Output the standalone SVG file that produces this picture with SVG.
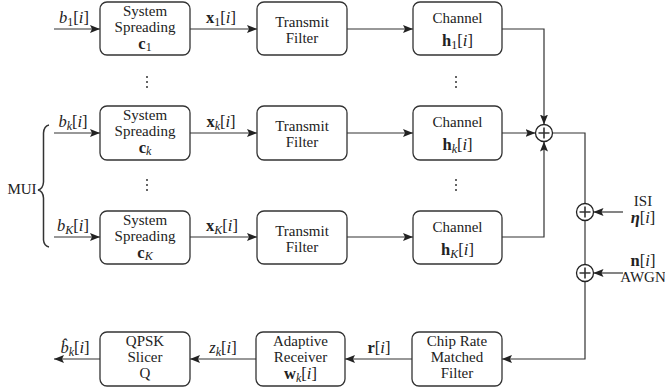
<svg xmlns="http://www.w3.org/2000/svg" width="665" height="392" viewBox="0 0 665 392">
<style>
text{font-family:"Liberation Serif","DejaVu Serif",serif;fill:#222;font-size:15px;text-anchor:middle}
.m{font-size:16.5px}
.it{font-style:italic}
.bf{font-weight:bold}
.sb{font-size:12px}
.box{fill:#fff;stroke:#333;stroke-width:1.3}
.ln{fill:none;stroke:#333;stroke-width:1.2}
.sum{fill:#fff;stroke:#222;stroke-width:1.3}
.dot{fill:#333}
</style>
<defs>
<marker id="ah" viewBox="0 0 10 8" refX="10" refY="4" markerWidth="10" markerHeight="8" markerUnits="userSpaceOnUse" orient="auto">
<path d="M0,0 L10,4 L0,8 L2,4 Z" fill="#222"/>
</marker>
</defs>

<g id="connectors">
<line class="ln" x1="54" y1="29" x2="100" y2="29" marker-end="url(#ah)"/>
<line class="ln" x1="190" y1="29" x2="257" y2="29" marker-end="url(#ah)"/>
<line class="ln" x1="347" y1="29" x2="413" y2="29" marker-end="url(#ah)"/>
<line class="ln" x1="54" y1="133" x2="100" y2="133" marker-end="url(#ah)"/>
<line class="ln" x1="190" y1="133" x2="257" y2="133" marker-end="url(#ah)"/>
<line class="ln" x1="347" y1="133" x2="413" y2="133" marker-end="url(#ah)"/>
<line class="ln" x1="54" y1="237" x2="100" y2="237" marker-end="url(#ah)"/>
<line class="ln" x1="190" y1="237" x2="257" y2="237" marker-end="url(#ah)"/>
<line class="ln" x1="347" y1="237" x2="413" y2="237" marker-end="url(#ah)"/>
<polyline class="ln" points="502,29 544,29 544,124.5" marker-end="url(#ah)"/>
<line class="ln" x1="502" y1="133" x2="535.5" y2="133" marker-end="url(#ah)"/>
<polyline class="ln" points="502,237 544,237 544,141.5" marker-end="url(#ah)"/>
<polyline class="ln" points="552.5,133 585,133 585,203.5"/>
<line class="ln" x1="585" y1="220.5" x2="585" y2="264.5"/>
<polyline class="ln" points="585,281.5 585,359 502,359" marker-end="url(#ah)"/>
<line class="ln" x1="623" y1="212" x2="593.5" y2="212" marker-end="url(#ah)"/>
<line class="ln" x1="623" y1="273" x2="593.5" y2="273" marker-end="url(#ah)"/>
<line class="ln" x1="412" y1="359" x2="345" y2="359" marker-end="url(#ah)"/>
<line class="ln" x1="256" y1="359" x2="190" y2="359" marker-end="url(#ah)"/>
<line class="ln" x1="100" y1="359" x2="54" y2="359" marker-end="url(#ah)"/>
</g>

<g id="labels">
<text class="m" x="74" y="23"><tspan class="it">b</tspan><tspan class="sb" dy="3">1</tspan><tspan dy="-3">[</tspan><tspan class="it">i</tspan>]</text>
<text class="m" x="221" y="23"><tspan class="bf">x</tspan><tspan class="sb" dy="3">1</tspan><tspan dy="-3">[</tspan><tspan class="it">i</tspan>]</text>
<text class="m" x="73" y="127"><tspan class="it">b</tspan><tspan class="sb it" dy="3">k</tspan><tspan dy="-3">[</tspan><tspan class="it">i</tspan>]</text>
<text class="m" x="221" y="127"><tspan class="bf">x</tspan><tspan class="sb it" dy="3">k</tspan><tspan dy="-3">[</tspan><tspan class="it">i</tspan>]</text>
<text class="m" x="73" y="231"><tspan class="it">b</tspan><tspan class="sb it" dy="3">K</tspan><tspan dy="-3">[</tspan><tspan class="it">i</tspan>]</text>
<text class="m" x="222" y="231"><tspan class="bf">x</tspan><tspan class="sb it" dy="3">K</tspan><tspan dy="-3">[</tspan><tspan class="it">i</tspan>]</text>
<text class="m" x="75" y="353"><tspan class="it">b̂</tspan><tspan class="sb it" dy="3">k</tspan><tspan dy="-3">[</tspan><tspan class="it">i</tspan>]</text>
<text class="m" x="223" y="353"><tspan class="it">z</tspan><tspan class="sb it" dy="3">k</tspan><tspan dy="-3">[</tspan><tspan class="it">i</tspan>]</text>
<text class="m" x="379" y="353"><tspan class="bf">r</tspan>[<tspan class="it">i</tspan>]</text>
<text x="643" y="206">ISI</text>
<text class="m" x="643" y="223"><tspan class="bf it">η</tspan>[<tspan class="it">i</tspan>]</text>
<text class="m" x="643" y="266"><tspan class="bf">n</tspan>[<tspan class="it">i</tspan>]</text>
<text x="643" y="282">AWGN</text>
<text x="22" y="194">MUI</text>
<path class="ln" d="M49,125 Q44,126 43.5,133 L43.5,182 Q43,189 38,190 Q43,191 43.5,198 L43.5,240 Q44,246 49,247" style="stroke-width:1.5"/>
<g class="dot"><circle cx="147" cy="77" r="1"/><circle cx="147" cy="82" r="1"/><circle cx="147" cy="87" r="1"/>
<circle cx="456" cy="77" r="1"/><circle cx="456" cy="82" r="1"/><circle cx="456" cy="87" r="1"/>
<circle cx="147" cy="180" r="1"/><circle cx="147" cy="185" r="1"/><circle cx="147" cy="190" r="1"/>
<circle cx="456" cy="180" r="1"/><circle cx="456" cy="185" r="1"/><circle cx="456" cy="190" r="1"/></g>
</g>

<g id="ss1"><rect class="box" x="100" y="2" width="90" height="53" rx="7"/><text x="145" y="16">System</text><text x="145" y="31.5">Spreading</text><text class="m" x="145" y="49"><tspan class="bf">c</tspan><tspan class="sb" dy="2">1</tspan></text></g>
<g id="tf1"><rect class="box" x="257" y="2" width="90" height="53" rx="7"/><text x="302" y="27">Transmit</text><text x="302" y="43">Filter</text></g>
<g id="ch1"><rect class="box" x="413" y="2" width="89" height="53" rx="7"/><text x="457.5" y="23">Channel</text><text class="m" x="457.5" y="46"><tspan class="bf">h</tspan><tspan class="sb" dy="3">1</tspan><tspan dy="-3">[</tspan><tspan class="it">i</tspan>]</text></g>

<g id="ssk"><rect class="box" x="100" y="106" width="90" height="54" rx="7"/><text x="145" y="120">System</text><text x="145" y="135.5">Spreading</text><text class="m" x="145" y="153"><tspan class="bf">c</tspan><tspan class="sb it" dy="2">k</tspan></text></g>
<g id="tfk"><rect class="box" x="257" y="106" width="90" height="54" rx="7"/><text x="302" y="131">Transmit</text><text x="302" y="147">Filter</text></g>
<g id="chk"><rect class="box" x="413" y="106" width="89" height="54" rx="7"/><text x="457.5" y="127">Channel</text><text class="m" x="457.5" y="150"><tspan class="bf">h</tspan><tspan class="sb it" dy="3">k</tspan><tspan dy="-3">[</tspan><tspan class="it">i</tspan>]</text></g>

<g id="ssK"><rect class="box" x="100" y="211" width="90" height="53" rx="7"/><text x="145" y="225">System</text><text x="145" y="240.5">Spreading</text><text class="m" x="145" y="258"><tspan class="bf">c</tspan><tspan class="sb it" dy="2">K</tspan></text></g>
<g id="tfK"><rect class="box" x="257" y="211" width="90" height="53" rx="7"/><text x="302" y="236">Transmit</text><text x="302" y="252">Filter</text></g>
<g id="chK"><rect class="box" x="413" y="211" width="89" height="53" rx="7"/><text x="457.5" y="232">Channel</text><text class="m" x="457.5" y="255"><tspan class="bf">h</tspan><tspan class="sb it" dy="3">K</tspan><tspan dy="-3">[</tspan><tspan class="it">i</tspan>]</text></g>

<g id="sum1"><circle class="sum" cx="544" cy="133" r="8.5"/><path class="ln" d="M538.5,133 H549.5 M544,127.5 V138.5" style="stroke-width:1.6"/></g>
<g id="sumisi"><circle class="sum" cx="585" cy="212" r="8.5"/><path class="ln" d="M579.5,212 H590.5 M585,206.5 V217.5" style="stroke-width:1.6"/></g>
<g id="sumawgn"><circle class="sum" cx="585" cy="273" r="8.5"/><path class="ln" d="M579.5,273 H590.5 M585,267.5 V278.5" style="stroke-width:1.6"/></g>

<g id="crmf"><rect class="box" x="412" y="332" width="90" height="54" rx="7"/><text x="457" y="346">Chip Rate</text><text x="457" y="362">Matched</text><text x="457" y="378">Filter</text></g>
<g id="ar"><rect class="box" x="256" y="332" width="89" height="54" rx="7"/><text x="300.5" y="346">Adaptive</text><text x="300.5" y="362">Receiver</text><text class="m" x="300.5" y="379"><tspan class="bf">w</tspan><tspan class="sb it" dy="3">k</tspan><tspan dy="-3">[</tspan><tspan class="it">i</tspan>]</text></g>
<g id="qs"><rect class="box" x="100" y="332" width="90" height="54" rx="7"/><text x="145" y="346">QPSK</text><text x="145" y="362">Slicer</text><text x="145" y="378">Q</text></g>
</svg>
